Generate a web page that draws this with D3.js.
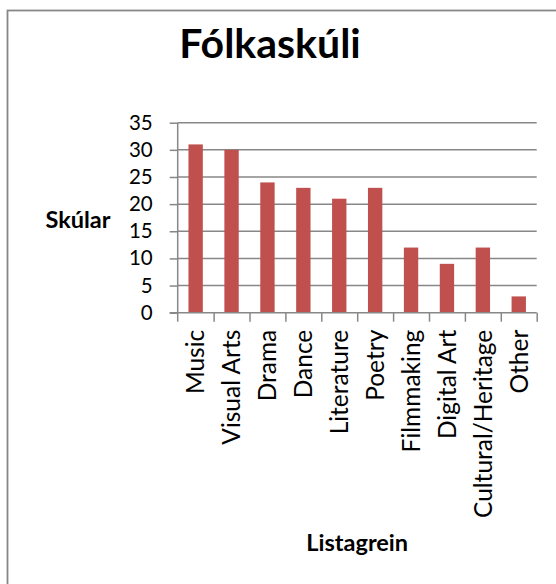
<!DOCTYPE html>
<html>
<head>
<meta charset="utf-8">
<script src="https://cdn.jsdelivr.net/npm/d3@7"></script>
<style>
  body { margin: 0; background: #fff; }
  text { font-family: Lato, "Open Sans", sans-serif; fill: #000; }
</style>
</head>
<body>
<div id="chart"></div>
<script>
// Data
const categories = ['Music', 'Visual Arts', 'Drama', 'Dance', 'Literature', 'Poetry',
  'Filmmaking', 'Digital Art', 'Cultural/Heritage', 'Other']
const values = [31, 30, 24, 23, 21, 23, 12, 9, 12, 3]
const yTicks = [0, 5, 10, 15, 20, 25, 30, 35]

const title = 'Fólkaskúli'
const yTitle = 'Skúlar'
const xTitle = 'Listagrein'

// Dimensions
const dimensions = {
  width: 556,
  height: 584,
  left: 177.7,
  right: 536.7,
  top: 122.7,
  bottom: 312.7
}

const svg = d3.select('#chart')
  .append('svg')
  .attr('width', dimensions.width)
  .attr('height', dimensions.height)

// chart border (runs off the right and bottom edge)
svg.append('rect')
  .attr('x', 7.5)
  .attr('y', 10.5)
  .attr('width', 600)
  .attr('height', 600)
  .attr('fill', 'none')
  .attr('stroke', '#878787')
  .attr('stroke-width', 1.8)

// scales
const xScale = d3.scaleBand()
  .domain(categories)
  .range([dimensions.left, dimensions.right])
  .paddingInner(0.6)
  .paddingOuter(0.3)

const xEdges = d3.scaleLinear()
  .domain([0, categories.length])
  .range([dimensions.left, dimensions.right])

const yScale = d3.scaleLinear()
  .domain([0, 35])
  .range([dimensions.bottom, dimensions.top])

// gridlines
svg.append('g')
  .selectAll('line')
  .data(yTicks.slice(1))
  .join('line')
  .attr('x1', dimensions.left)
  .attr('x2', dimensions.right)
  .attr('y1', d => yScale(d))
  .attr('y2', d => yScale(d))
  .attr('stroke', '#878787')
  .attr('stroke-width', 1.5)

// bars
svg.append('g')
  .selectAll('rect')
  .data(values)
  .join('rect')
  .attr('x', (d, i) => xScale(categories[i]))
  .attr('y', d => yScale(d))
  .attr('width', xScale.bandwidth())
  .attr('height', d => yScale(0) - yScale(d))
  .attr('fill', '#C0504D')

// y axis
const yAxis = d3.axisLeft(yScale)
  .tickValues(yTicks)
  .tickSize(8)
  .tickPadding(17)

const yAxisGroup = svg.append('g')
  .attr('transform', `translate(${dimensions.left}, 0)`)
  .call(yAxis)

yAxisGroup.select('.domain').remove()
yAxisGroup.append('line')
  .attr('y1', dimensions.top)
  .attr('y2', dimensions.bottom + 9)
  .attr('stroke', '#878787')
  .attr('stroke-width', 1.5)
yAxisGroup.selectAll('.tick line')
  .attr('stroke', '#878787')
  .attr('stroke-width', 1.5)
yAxisGroup.selectAll('.tick text')
  .attr('font-size', 20.5)
  .attr('font-family', 'Lato, sans-serif')
  .attr('fill', '#000')

// x axis
const xAxis = d3.axisBottom(xEdges)
  .tickValues(d3.range(1, categories.length + 1))
  .tickSize(9)
  .tickFormat('')

const xAxisGroup = svg.append('g')
  .attr('transform', `translate(0, ${dimensions.bottom})`)
  .call(xAxis)

xAxisGroup.select('.domain').remove()
xAxisGroup.append('line')
  .attr('x1', dimensions.left - 8)
  .attr('x2', dimensions.right)
  .attr('stroke', '#878787')
  .attr('stroke-width', 1.5)
xAxisGroup.selectAll('.tick line')
  .attr('stroke', '#878787')
  .attr('stroke-width', 1.5)

// category labels
svg.append('g')
  .selectAll('text')
  .data(categories)
  .join('text')
  .attr('transform', d => `translate(${xScale(d) + xScale.bandwidth() / 2}, ${dimensions.bottom + 17}) rotate(-90)`)
  .attr('text-anchor', 'end')
  .attr('dy', '0.36em')
  .attr('font-size', 24.5)
  .text(d => d)

// titles
svg.append('text')
  .attr('x', 270)
  .attr('y', 58)
  .attr('text-anchor', 'middle')
  .attr('font-size', 41)
  .attr('font-weight', 'bold')
  .text(title)

svg.append('text')
  .attr('x', 78)
  .attr('y', 227.5)
  .attr('text-anchor', 'middle')
  .attr('font-size', 23.5)
  .attr('font-weight', 'bold')
  .text(yTitle)

svg.append('text')
  .attr('x', (dimensions.left + dimensions.right) / 2)
  .attr('y', 550.5)
  .attr('text-anchor', 'middle')
  .attr('font-size', 23.5)
  .attr('font-weight', 'bold')
  .text(xTitle)
</script>
</body>
</html>
